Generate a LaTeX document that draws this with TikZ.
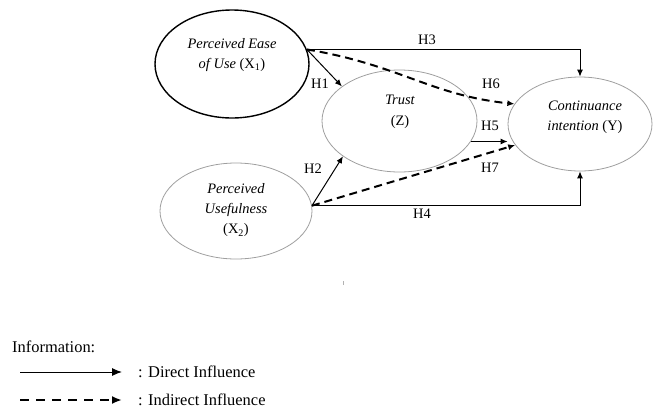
\documentclass[tikz,border=0pt]{standalone}
\usepackage{fontspec}
\setmainfont{Liberation Serif}
\usetikzlibrary{shapes.geometric,arrows.meta}

\tikzset{
  latent/.style={ellipse, draw=gray!75, line width=0.8bp, inner sep=0pt},
  vartext/.style={align=center, inner sep=0pt, font=\fontsize{14.5}{20.5}\selectfont},
  hlabel/.style={inner sep=0pt, font=\fontsize{14.5}{16}\selectfont},
  legtext/.style={anchor=west, inner sep=0pt, font=\fontsize{16.5}{18}\selectfont},
  direct/.style={-{Latex[length=7bp,width=6bp]}, line width=1bp},
  indirect/.style={-{Latex[length=7bp,width=6bp]}, line width=2bp, dash pattern=on 8bp off 5bp},
}

\begin{document}
\begin{tikzpicture}[x=1bp,y=-1bp]
  \useasboundingbox (0,0) rectangle (656,408);
  % the four constructs
  \node[latent, draw=black, line width=1.4bp, minimum width=154bp, minimum height=108bp] (x1) at (232,64) {};
  \node[latent, minimum width=155bp, minimum height=102bp] (z) at (399.5,121) {};
  \node[latent, minimum width=144bp, minimum height=94bp] (y) at (580,124) {};
  \node[latent, minimum width=152bp, minimum height=96bp] (x2) at (236,211) {};
  \node[vartext] (x1txt) at (232,55) {\textit{Perceived Ease}\\\textit{of Use} (X\textsubscript{1})};
  \node[vartext] (ztxt) at (400,112) {\textit{Trust}\\(Z)};
  \node[vartext] (ytxt) at (585,117) {\textit{Continuance}\\\textit{intention} (Y)};
  \node[vartext] (x2txt) at (236,210) {\textit{Perceived}\\\textit{Usefulness}\\(X\textsubscript{2})};
  % paths
  \coordinate (p1) at (x1.11);
  \coordinate (p2) at (x2.4);
  \draw[direct] (p1) -| (y.north);
  \draw[direct] (p1) -- (z.149);
  \draw[indirect] (p1) .. controls (400,65) and (430,95) .. (y.163);
  \draw[direct] (p2) -- (z.212);
  \draw[indirect] (p2) -- (y.198);
  \draw[direct] (p2) -| (y.south);
  \draw[direct] (z.-16) -- (z.-16 -| y.west);
  \node[hlabel] (h1) at (320,84) {H1};
  \node[hlabel] (h2) at (313,169) {H2};
  \node[hlabel] (h3) at (427,40) {H3};
  \node[hlabel] (h4) at (422,214) {H4};
  \node[hlabel] (h5) at (490,126) {H5};
  \node[hlabel] (h6) at (491,84) {H6};
  \node[hlabel] (h7) at (490,168) {H7};
  \fill[gray!60] (342.5,281) rectangle (343.5,285);
  % legend
  \node[legtext] (info) at (12,347) {Information:};
  \coordinate (d1) at (20,372);
  \coordinate (d2) at (122,372);
  \coordinate (i1) at (20,400);
  \coordinate (i2) at (122,400);
  \draw[-{Latex[length=10bp,width=8bp]}, line width=1bp] (d1) -- (d2);
  \draw[-{Latex[length=10bp,width=8bp]}, line width=2.5bp, dash pattern=on 9bp off 7bp] (i1) -- (i2);
  \node[legtext] (dirtxt) at (138,372) {: Direct Influence};
  \node[legtext] (indtxt) at (138,400) {: Indirect Influence};
\end{tikzpicture}
\end{document}
